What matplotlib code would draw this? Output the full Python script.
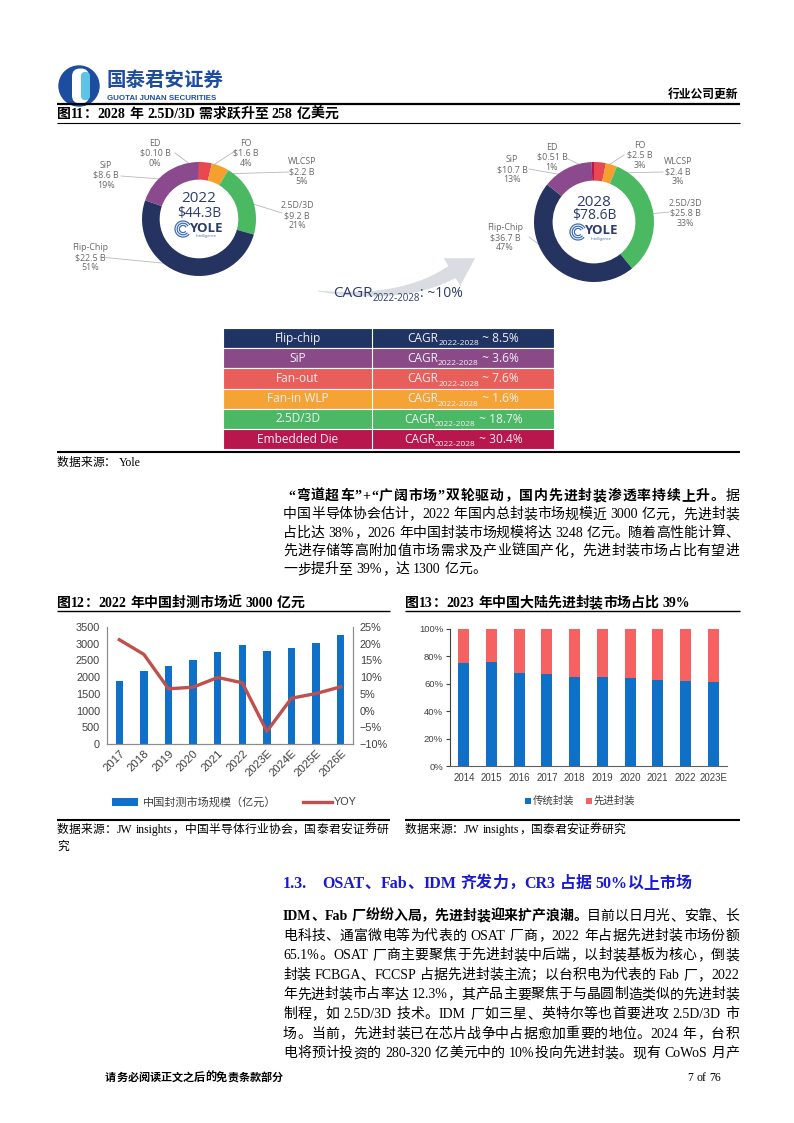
import re
import numpy as np
import matplotlib
matplotlib.use('Agg')
import matplotlib.pyplot as plt
from matplotlib.patches import Rectangle, Circle, FancyBboxPatch, Polygon, Arc
from matplotlib.ticker import FuncFormatter

# ---------------- data ----------------
donut_cats = ['FO', 'WLCSP', '2.5D/3D', 'Flip-Chip', 'SiP', 'ED']
donut22_vals = [1.6, 2.2, 9.2, 22.5, 8.6, 0.10]
donut22_pct = ['4%', '5%', '21%', '51%', '19%', '0%']
donut28_vals = [2.5, 2.4, 25.8, 36.7, 10.7, 0.51]
donut28_pct = ['3%', '3%', '33%', '47%', '13%', '1%']
donut_totals = ['$44.3B', '$78.6B']
donut_years = ['2022', '2028']
overall_cagr = '~10%'

table_rows = ['Flip-chip', 'SiP', 'Fan-out', 'Fan-in WLP', '2.5D/3D', 'Embedded Die']
table_cagr = ['8.5%', '3.6%', '7.6%', '1.6%', '18.7%', '30.4%']

years12 = ['2017', '2018', '2019', '2020', '2021', '2022', '2023E', '2024E', '2025E', '2026E']
market12 = [1870, 2180, 2320, 2500, 2740, 2960, 2780, 2880, 3020, 3248]
yoy12 = [21.2, 16.8, 6.5, 7.0, 9.9, 8.3, -6.2, 3.7, 5.1, 7.1]

years13 = ['2014', '2015', '2016', '2017', '2018', '2019', '2020', '2021', '2022', '2023E']
trad13 = [75, 76, 68, 67, 65, 65, 64, 63, 62, 61]
adv13 = [25, 24, 32, 33, 35, 35, 36, 37, 38, 39]

# ---------------- styles ----------------
SERIF = ['Liberation Serif', 'Noto Sans CJK SC']
CJK = ['Noto Sans CJK SC', 'DejaVu Sans']
SANS = ['Liberation Sans', 'Noto Sans CJK SC']
MONT = ['Open Sans', 'DejaVu Sans']
DONUT_COLORS = ['#e8484f', '#f5a02e', '#4bb862', '#24335f', '#8a4a8d', '#b3174b']
TABLE_COLORS = ['#203463', '#8a4a88', '#e85e58', '#f5a334', '#4bb865', '#b8174d']
BLUE = '#0f70c8'

W, H = 794, 1123
fig = plt.figure(figsize=(W / 100, H / 100), dpi=100)
page = fig.add_axes([0, 0, 1, 1])
page.set_xlim(0, W)
page.set_ylim(H, 0)
page.axis('off')
renderer = fig.canvas.get_renderer()


def px_axes(left, top, right, bottom):
    ax = fig.add_axes([left / W, 1 - bottom / H, (right - left) / W, (bottom - top) / H])
    ax.set_facecolor('none')
    return ax


def twidth(t):
    return t.get_window_extent(renderer).width


def tokenize(s):
    return re.findall(r'[A-Za-z0-9.%/\-+]+|\s|.', s)


def draw_line(runs, x0, yc, x1=None, size=10, color='black', family=SERIF):
    toks = []
    for text, wt in runs:
        for tk in tokenize(text):
            toks.append((tk, wt))
    px = size * 100 / 72
    y = yc + 0.36 * px
    objs, ws = [], []
    for tk, wt in toks:
        if tk == ' ':
            objs.append(None)
            ws.append(0.27 * px)
        else:
            t = page.text(0, y, tk, fontsize=size, fontweight=wt, family=family,
                          color=color, va='baseline', ha='left')
            objs.append(t)
            ws.append(twidth(t))
    n = len(toks)
    gap = (x1 - x0 - sum(ws)) / (n - 1) if (x1 is not None and n > 1) else 0
    x = x0
    for o, w in zip(objs, ws):
        if o is not None:
            o.set_x(x)
        x += w + gap


def rich(x, yb, parts, ha='left', color='white', family=MONT, weight='normal'):
    objs, ws = [], []
    for txt, sz, dy in parts:
        t = page.text(0, yb + dy, txt, fontsize=sz, family=family, color=color,
                      va='baseline', ha='left', fontweight=weight)
        objs.append(t)
        ws.append(twidth(t))
    total = sum(ws)
    x0 = x - total / 2 if ha == 'center' else x
    for o, w in zip(objs, ws):
        o.set_x(x0)
        x0 += w


def hline(y, x0, x1, lw=1.0, color='black'):
    page.plot([x0, x1], [y, y], color=color, lw=lw, solid_capstyle='butt')


# ---------------- header ----------------
page.add_patch(Circle((79, 86), 20, color='#1c4d9e'))
page.add_patch(FancyBboxPatch((72, 68.5), 17, 35, boxstyle='round,pad=0,rounding_size=8',
                              fc='white', ec='none'))
page.add_patch(FancyBboxPatch((81, 72), 9, 28, boxstyle='round,pad=0,rounding_size=4',
                              fc='#5ec3e6', ec='none'))
page.text(106, 80, '国泰君安证券', fontsize=14, fontweight='bold', family=CJK,
          color='#1c4d9e', va='center', ha='left')
t = page.text(107, 98, 'GUOTAI JUNAN SECURITIES', fontsize=5.5, fontweight='bold',
              family=['Liberation Sans'], color='#1c4d9e', va='center', ha='left')
t.set_fontsize(5.5 * 108 / twidth(t))
page.text(738, 94, '行业公司更新', fontsize=8.5, fontweight='bold', family=CJK,
          color='black', va='center', ha='right')
hline(104, 57, 740, lw=1.6)

# ---------------- figure 11 ----------------
draw_line([('图11：2028 年 2.5D/3D 需求跃升至 258 亿美元', 'bold')], 57, 113, size=10)
hline(122.5, 57, 740, lw=0.8)


def donut(cx, cy, R, vals, pcts, year, total, label_pos):
    ax = px_axes(cx - R, cy - R, cx + R, cy + R)
    wedges, _ = ax.pie(vals, startangle=90, counterclock=False, colors=DONUT_COLORS,
                       radius=1, wedgeprops=dict(width=0.31, edgecolor='none'))
    ax.set_xlim(-1, 1)
    ax.set_ylim(-1, 1)
    ax.set_aspect('auto')
    ax.axis('off')
    rm = R * 0.85
    for w, cat, v, p in zip(wedges, donut_cats, vals, pcts):
        mid = np.deg2rad((w.theta1 + w.theta2) / 2)
        ex, ey = cx + rm * np.cos(mid), cy - rm * np.sin(mid)
        lx, ly, sx, sy = label_pos[cat]
        page.plot([sx, ex], [sy, ey], color='#b8b8b8', lw=0.6)
        vs = f'${v:.2f} B' if v < 1 else f'${v:.1f} B'
        for i, s in enumerate([cat, vs, p]):
            page.text(lx, ly + 10 * i, s, fontsize=6.4, family=MONT, color='#6a6a6a',
                      ha='center', va='center')
    page.text(cx, cy - 20, year, fontsize=11, family=MONT, color='#2d3c6b',
              ha='center', va='center')
    page.text(cx, cy - 6, total, fontsize=10, family=MONT, color='#2d3c6b',
              ha='center', va='center')
    # YOLE logo
    lx0, ly0 = cx - 16, cy + 10
    for r in [8, 5.8, 3.6]:
        page.add_patch(Arc((lx0, ly0), 2 * r, 2 * r, theta1=40, theta2=330,
                           color='#3c6fb4', lw=0.9))
    page.text(cx + 7, ly0 - 1, 'YOLE', fontsize=9.5, fontweight='bold', family=MONT,
              color='#2d3c6b', ha='center', va='center')
    page.text(cx + 7, ly0 + 7, 'Intelligence', fontsize=2.8, family=MONT,
              color='#3c6fb4', ha='center', va='center')


labels22 = {'ED': (155, 143, 175, 153), 'FO': (246, 143, 235, 151),
            'WLCSP': (302, 162, 289, 172), '2.5D/3D': (297, 206, 282, 213),
            'SiP': (106, 165, 121, 176), 'Flip-Chip': (90, 248, 100, 257)}
labels28 = {'ED': (552, 147, 568, 159), 'FO': (640, 145, 624, 155),
            'WLCSP': (678, 162, 663, 172), '2.5D/3D': (685, 203, 669, 212),
            'SiP': (512, 160, 529, 169), 'Flip-Chip': (505, 228, 529, 237)}
donut(199, 219, 57, donut22_vals, donut22_pct, donut_years[0], donut_totals[0], labels22)
donut(594, 222, 60, donut28_vals, donut28_pct, donut_years[1], donut_totals[1], labels28)

# curved CAGR arrow
tt = np.linspace(0, 1, 60)
P0, P1, P2 = np.array([318, 291]), np.array([402, 302]), np.array([452, 272])
pts = ((1 - tt) ** 2)[:, None] * P0 + (2 * (1 - tt) * tt)[:, None] * P1 + (tt ** 2)[:, None] * P2
der = (2 * (1 - tt))[:, None] * (P1 - P0) + (2 * tt)[:, None] * (P2 - P1)
der = der / np.linalg.norm(der, axis=1)[:, None]
nrm = np.stack([-der[:, 1], der[:, 0]], axis=1)
wd = 0.5 + 6.5 * tt
left = pts + nrm * wd[:, None]
right = pts - nrm * wd[:, None]
d = der[-1]
n = nrm[-1]
tip = P2 + d * 27
head = [P2 + n * 16, tip, P2 - n * 16]
poly = np.vstack([left, head, right[::-1]])
page.add_patch(Polygon(poly, closed=True, fc='#d9dde2', ec='none'))
rich(333, 297, [('CAGR', 11, 0), ('2022-2028', 7, 4), (': ' + overall_cagr, 10, 0)],
     color='#2d3c6b')

# table
tx0, tx1, tdiv, ty0, rh = 223, 554, 372, 328, 20.2
for i, (name, c) in enumerate(zip(table_rows, table_cagr)):
    y = ty0 + i * rh
    page.add_patch(Rectangle((tx0, y), tx1 - tx0, rh, fc=TABLE_COLORS[i], ec='white', lw=0.8))
    yc = y + rh / 2
    page.text((tx0 + tdiv) / 2, yc, name, fontsize=8.6, family=MONT, color='#f2eff6',
              ha='center', va='center')
    rich((tdiv + tx1) / 2, yc + 3.8, [('CAGR', 8.6, 0), ('2022-2028', 6.0, 3.2),
                                       (' ~ ' + c, 8.6, 0)], ha='center', color='#f2eff6')
page.plot([tdiv, tdiv], [ty0, ty0 + 6 * rh], color='white', lw=0.8)
hline(452, 57, 740, lw=1.5)
draw_line([('数据来源： Yole', 'normal')], 57, 462, size=8.5)

# paragraph 1
p1 = [
    [('“弯道超车”+“广阔市场”双轮驱动，国内先进封装渗透率持续上升。', 'bold'), ('据', 'normal')],
    [('中国半导体协会估计，2022 年国内总封装市场规模近 3000 亿元，先进封装', 'normal')],
    [('占比达 38%，2026 年中国封装市场规模将达 3248 亿元。随着高性能计算、', 'normal')],
    [('先进存储等高附加值市场需求及产业链国产化，先进封装市场占比有望进', 'normal')],
    [('一步提升至 39%，达 1300 亿元。', 'normal')],
]
for i, runs in enumerate(p1):
    x0 = 288 if i == 0 else 283
    draw_line(runs, x0, 495 + 18.3 * i, x1=739 if i < 4 else None, size=10)

# ---------------- figure 12 ----------------
draw_line([('图12：2022 年中国封测市场近 3000 亿元', 'bold')], 57, 602, size=10)
hline(611, 57, 390, lw=1.0)
ax12 = px_axes(107, 627, 353, 744)
x = np.arange(len(years12))
ax12.bar(x, market12, width=0.3, color=BLUE, zorder=2)
ax12.set_xlim(-0.5, len(years12) - 0.5)
ax12.set_ylim(0, 3500)
ax12.set_yticks(np.arange(0, 3501, 500))
ax12.set_xticks(x)
ax12.set_xticklabels(years12, rotation=45, ha='right', rotation_mode='anchor')
axr = ax12.twinx()
axr.plot(x, yoy12, color='#c0504d', lw=2.4, zorder=3)
axr.set_ylim(-10, 25)
axr.set_yticks(np.arange(-10, 26, 5))
axr.yaxis.set_major_formatter(FuncFormatter(lambda v, p: f'{int(v)}%'.replace('-', '−')))
for a in (ax12, axr):
    a.spines['top'].set_visible(False)
    for s in ('left', 'right', 'bottom'):
        a.spines[s].set_color('#8c8c8c')
        a.spines[s].set_linewidth(0.8)
    a.tick_params(axis='both', length=0, labelsize=7.8, colors='#404040', pad=5)
    for lab in a.get_xticklabels() + a.get_yticklabels():
        lab.set_family(SANS)
ax12.tick_params(axis='x', pad=3, labelsize=8.2)
# legend 12
page.add_patch(Rectangle((112, 798), 26, 8, fc=BLUE, ec='none'))
page.text(143, 802, '中国封测市场规模（亿元）', fontsize=8, family=CJK, color='#404040',
          va='center', ha='left')
page.plot([303, 332], [802, 802], color='#c0504d', lw=2.4)
page.text(334, 802, 'YOY', fontsize=7.8, family=SANS, color='#404040', va='center', ha='left')
hline(820, 57, 390, lw=1.5)
draw_line([('数据来源：JW insights，中国半导体行业协会，国泰君安证券研', 'normal')], 57, 829,
          x1=388, size=8.5)
draw_line([('究', 'normal')], 57, 846, size=8.5)

# ---------------- figure 13 ----------------
draw_line([('图13：2023 年中国大陆先进封装市场占比 39%', 'bold')], 405, 602, size=10)
hline(611, 405, 740, lw=1.0)
ax13 = px_axes(450, 629, 727, 766)
x = np.arange(len(years13))
ax13.bar(x, trad13, width=0.4, color=BLUE, zorder=2)
ax13.bar(x, adv13, bottom=trad13, width=0.4, color='#f66161', zorder=2)
ax13.set_xlim(-0.5, len(years13) - 0.5)
ax13.set_ylim(0, 100)
ax13.set_yticks(np.arange(0, 101, 20))
ax13.yaxis.set_major_formatter(FuncFormatter(lambda v, p: f'{int(v)}%'))
ax13.set_xticks(x)
ax13.set_xticklabels(years13)
for s in ('top', 'right'):
    ax13.spines[s].set_visible(False)
ax13.spines['left'].set_color('#404040')
ax13.spines['bottom'].set_color('#606060')
for s in ('left', 'bottom'):
    ax13.spines[s].set_linewidth(0.8)
ax13.tick_params(axis='y', length=3, labelsize=6.8, colors='#404040', pad=2)
ax13.tick_params(axis='x', length=0, labelsize=7.0, colors='#404040', pad=5)
for lab in ax13.get_xticklabels() + ax13.get_yticklabels():
    lab.set_family(SANS)
page.add_patch(Rectangle((525, 798), 6, 6, fc=BLUE, ec='none'))
page.text(533, 801, '传统封装', fontsize=7.5, family=CJK, color='#404040', va='center')
page.add_patch(Rectangle((586, 798), 6, 6, fc='#f66161', ec='none'))
page.text(594, 801, '先进封装', fontsize=7.5, family=CJK, color='#404040', va='center')
hline(820, 405, 740, lw=1.5)
draw_line([('数据来源：JW insights，国泰君安证券研究', 'normal')], 405, 829, size=8.5)

# ---------------- section 1.3 ----------------
draw_line([('1.3.', 'bold')], 283, 882, size=11.5, color='#1a1ad0')
draw_line([('OSAT、Fab、IDM 齐发力，CR3 占据 50%以上市场', 'bold')], 322, 882, size=11.5,
          color='#1a1ad0')
p2 = [
    [('IDM、Fab 厂纷纷入局，先进封装迎来扩产浪潮。', 'bold'), ('目前以日月光、安靠、长', 'normal')],
    [('电科技、通富微电等为代表的 OSAT 厂商，2022 年占据先进封装市场份额', 'normal')],
    [('65.1%。OSAT 厂商主要聚焦于先进封装中后端，以封装基板为核心，倒装', 'normal')],
    [('封装 FCBGA、FCCSP 占据先进封装主流；以台积电为代表的 Fab 厂，2022', 'normal')],
    [('年先进封装市占率达 12.3%，其产品主要聚焦于与晶圆制造类似的先进封装', 'normal')],
    [('制程，如 2.5D/3D 技术。IDM 厂如三星、英特尔等也首要进攻 2.5D/3D 市', 'normal')],
    [('场。当前，先进封装已在芯片战争中占据愈加重要的地位。2024 年，台积', 'normal')],
    [('电将预计投资的 280-320 亿美元中的 10%投向先进封装。现有 CoWoS 月产', 'normal')],
]
for i, runs in enumerate(p2):
    draw_line(runs, 283, 915 + 19.6 * i, x1=739, size=10)

# ---------------- footer ----------------
draw_line([('请务必阅读正文之后的免责条款部分', 'bold')], 105, 1077, size=8)
draw_line([('7 of 76', 'normal')], 687, 1077, size=8.5)

fig.savefig('out.png', dpi=100)
